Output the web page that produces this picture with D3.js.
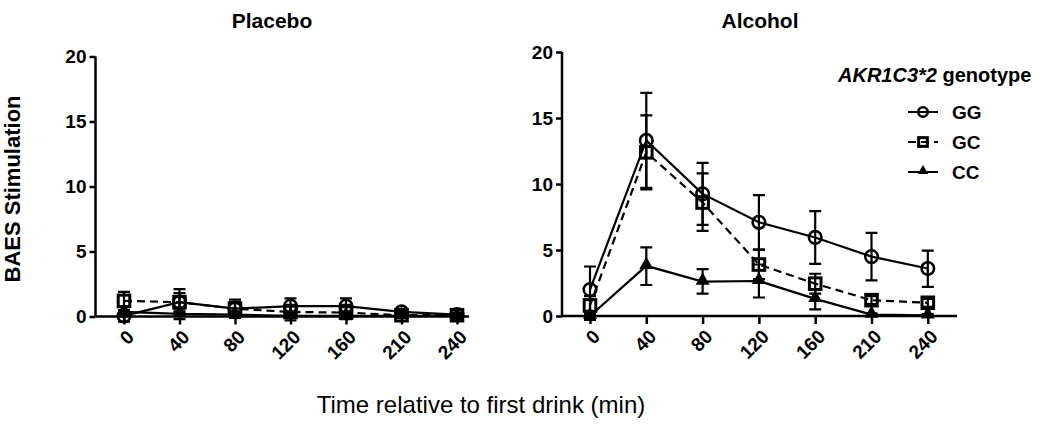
<!DOCTYPE html>
<meta charset="utf-8">
<style>
    body { margin: 0; background: #fff; }
    svg { font-family: "Liberation Sans", Arial, sans-serif; }
    .axis text { font-weight: bold; font-size: 19px; fill: #000; }
    .axis line, .axis path { stroke: #000; stroke-width: 2.5px; }
</style>
<svg width="1050" height="426"></svg>
<script src="https://cdn.jsdelivr.net/npm/d3@7/dist/d3.min.js"></script>
<script>

    // time points (min) and genotypes
    var times = ["0", "40", "80", "120", "160", "210", "240"];
    var genotypes = ["GG", "GC", "CC"];
    var yTicks = [0, 5, 10, 15, 20];

    // placebo means / error bar ends
    var placeboGG = [0.05, 1.1, 0.6, 0.8, 0.8, 0.35, 0.15];
    var placeboGGHi = [0.3, 2.1, 1.3, 1.4, 1.4, 0.5, 0.3];
    var placeboGGLo = [0, 0.3, 0.1, 0.2, 0.2, 0.2, 0];
    var placeboGC = [1.2, 1.1, 0.6, 0.35, 0.3, 0.1, 0.1];
    var placeboGCHi = [1.9, 1.8, 1.1, 0.9, 0.9, 0.25, 0.25];
    var placeboGCLo = [0.5, 0.4, 0.1, 0, 0, 0, 0];
    var placeboCC = [0.35, 0.2, 0.15, 0.05, 0.05, 0.05, 0.05];
    var placeboCCHi = [0.8, 0.6, 0.4, 0.3, 0.3, 0.1, 0.1];
    var placeboCCLo = [-0.4, -0.2, -0.1, -0.3, -0.2, 0, 0];

    // alcohol means / error bar ends
    var alcoholGG = [2.0, 13.3, 9.25, 7.1, 5.95, 4.5, 3.6];
    var alcoholGGHi = [3.75, 16.9, 11.6, 9.15, 7.95, 6.3, 4.95];
    var alcoholGGLo = [0.25, 9.7, 6.9, 5.05, 3.95, 2.7, 2.2];
    var alcoholGC = [0.8, 12.4, 8.6, 3.9, 2.45, 1.2, 1.0];
    var alcoholGCHi = [1.5, 15.2, 10.8, 5.0, 3.2, 1.5, 1.3];
    var alcoholGCLo = [0.1, 9.6, 6.45, 2.8, 1.7, 0.9, 0.7];
    var alcoholCC = [0.0, 3.8, 2.6, 2.65, 1.3, 0.1, 0.05];
    var alcoholCCHi = [0.3, 5.2, 3.55, 3.9, 2.0, 0.2, 0.15];
    var alcoholCCLo = [-0.3, 2.35, 1.7, 1.4, 0.5, 0, 0];

    var panels = [
        {title: "Placebo", left: 95.5, end: 469, first: 124, step: 55.5, top: 56.5, zero: 316.5, titleX: 272,
         series: [
             {id: "GG", v: placeboGG, hi: placeboGGHi, lo: placeboGGLo},
             {id: "GC", v: placeboGC, hi: placeboGCHi, lo: placeboGCLo},
             {id: "CC", v: placeboCC, hi: placeboCCHi, lo: placeboCCLo}
         ]},
        {title: "Alcohol", left: 562, end: 957, first: 590, step: 56.3, top: 52, zero: 316, titleX: 760,
         series: [
             {id: "GG", v: alcoholGG, hi: alcoholGGHi, lo: alcoholGGLo},
             {id: "GC", v: alcoholGC, hi: alcoholGCHi, lo: alcoholGCLo},
             {id: "CC", v: alcoholCC, hi: alcoholCCHi, lo: alcoholCCLo}
         ]}
    ];

    var svg = d3.select("svg");

    var dash = {GG: null, GC: "8,5", CC: null};

    // open symbols are hollow, so lines and error bars show through
    function marker(sel, id, cx, cy, k) {
        k = k || 1;
        if (id === "GG") {
            sel.append("circle").attr("cx", cx).attr("cy", cy).attr("r", 6.3 * k)
                .attr("fill", "none").attr("stroke", "#000").attr("stroke-width", 2.6);
        } else if (id === "GC") {
            sel.append("rect").attr("x", cx - 5.8 * k).attr("y", cy - 5.8 * k)
                .attr("width", 11.6 * k).attr("height", 11.6 * k)
                .attr("fill", "none").attr("stroke", "#000").attr("stroke-width", 3);
        } else {
            sel.append("path").attr("d", d3.symbol().type(d3.symbolTriangle).size(85 * k * k)())
                .attr("transform", "translate(" + cx + "," + (cy - 1) + ")")
                .attr("fill", "#000");
        }
    }

    panels.forEach(function (p) {
        var x = d3.scalePoint().domain(times).range([p.first, p.first + p.step * (times.length - 1)]);
        var y = d3.scaleLinear().domain([0, 20]).range([p.zero, p.top]);

        var g = svg.append("g");

        // y axis
        g.append("g")
            .attr("class", "axis")
            .attr("transform", "translate(" + p.left + ",0)")
            .call(d3.axisLeft(y).tickValues(yTicks).tickSize(6).tickSizeOuter(0).tickPadding(3))
            .call(function (a) { a.select(".domain").attr("d", "M0," + y(0) + "V" + y(20)); });

        // x axis
        var xa = g.append("g")
            .attr("class", "axis")
            .attr("transform", "translate(0," + y(0) + ")")
            .call(d3.axisBottom(x).tickSize(8).tickSizeOuter(0));
        xa.select(".domain").attr("d", "M" + p.left + ",0H" + p.end);
        xa.selectAll(".tick text")
            .attr("y", 0).attr("dy", "0.35em")
            .attr("text-anchor", "end")
            .attr("transform", "translate(6,17) rotate(-45)");

        // title
        g.append("text")
            .attr("x", p.titleX).attr("y", 28)
            .attr("text-anchor", "middle")
            .style("font-size", "21px").style("font-weight", "bold")
            .text(p.title);

        var line = d3.line()
            .x(function (d, i) { return x(times[i]); })
            .y(function (d) { return y(d); });

        p.series.forEach(function (s) {
            var sg = g.append("g");
            // error bars
            s.v.forEach(function (v, i) {
                var cx = x(times[i]);
                sg.append("path")
                    .attr("d", "M" + cx + "," + y(s.lo[i]) + "V" + y(s.hi[i]) +
                        "M" + (cx - 6) + "," + y(s.hi[i]) + "H" + (cx + 6) +
                        "M" + (cx - 6) + "," + y(s.lo[i]) + "H" + (cx + 6))
                    .attr("stroke", "#000").attr("stroke-width", 2.2).attr("fill", "none");
            });
            sg.append("path")
                .attr("d", line(s.v))
                .attr("fill", "none").attr("stroke", "#000").attr("stroke-width", 2.2)
                .attr("stroke-dasharray", dash[s.id]);
        });
        p.series.forEach(function (s) {
            s.v.forEach(function (v, i) {
                marker(g, s.id, x(times[i]), y(v));
            });
        });
    });

    // y-axis label
    svg.append("text")
        .attr("transform", "translate(20,189) rotate(-90)")
        .attr("text-anchor", "middle")
        .style("font-size", "22px").style("font-weight", "bold")
        .text("BAES Stimulation");

    // x-axis label
    svg.append("text")
        .attr("x", 481).attr("y", 413)
        .attr("text-anchor", "middle")
        .style("font-size", "24px")
        .text("Time relative to first drink (min)");

    // legend
    var lg = svg.append("g");
    var lt = lg.append("text").attr("x", 838).attr("y", 82)
        .style("font-size", "20px").style("font-weight", "bold");
    lt.append("tspan").style("font-style", "italic").text("AKR1C3*2");
    lt.append("tspan").text(" genotype");

    genotypes.forEach(function (id, i) {
        var yy = 112 + i * 30;
        lg.append("line")
            .attr("x1", 908).attr("x2", 938).attr("y1", yy).attr("y2", yy)
            .attr("stroke", "#000").attr("stroke-width", 2)
            .attr("stroke-dasharray", id === "GC" ? "8,5" : null);
        marker(lg, id, 923, yy, 0.75);
        lg.append("text").attr("x", 952).attr("y", yy).attr("dy", "0.36em")
            .style("font-size", "19px").style("font-weight", "bold")
            .text(id);
    });

</script>
